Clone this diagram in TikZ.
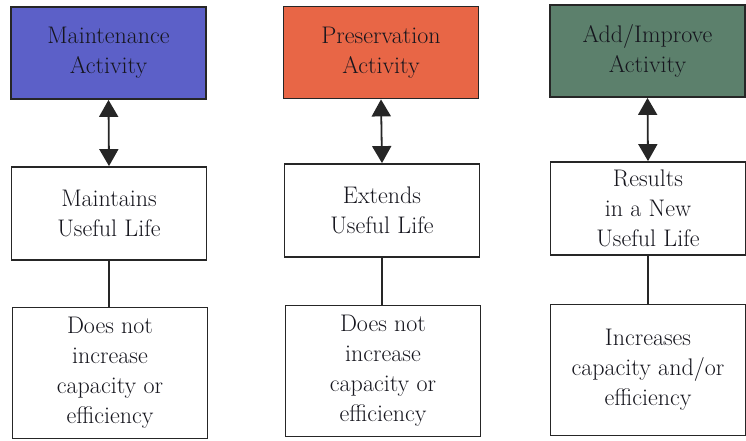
\documentclass[tikz,border=0pt]{standalone}
\usetikzlibrary{arrows.meta}
\definecolor{maintblue}{RGB}{92,96,200}
\definecolor{presorange}{RGB}{232,102,70}
\definecolor{addgreen}{RGB}{92,128,108}
\definecolor{inktext}{RGB}{22,22,30}
\begin{document}
\begin{tikzpicture}[x=1pt,y=-1pt,
  box/.style={draw=black!85, line width=1.8pt, rectangle, inner sep=0pt,
    align=center, text=inktext, font=\fontsize{24}{30}\selectfont},
  headbox/.style={box, minimum width=195pt, minimum height=92pt},
  lifebox/.style={box, fill=white, minimum width=195pt, minimum height=93pt},
  effectbox/.style={box, fill=white, minimum width=195pt, minimum height=131pt},
  twoway/.style={line width=1.8pt, draw=black!85,
    {Triangle[width=19pt,length=17pt]}-{Triangle[width=19pt,length=17pt]}},
  link/.style={line width=1.8pt, draw=black!85}]
\useasboundingbox (0,0) rectangle (746,441);

% column 1: maintenance
\node[headbox, fill=maintblue] (h1) at (108.5,53) {Maintenance\\Activity};
\node[lifebox] (m1) at (109,213.5) {Maintains\\Useful Life};
\node[effectbox] (b1) at (110,373) {Does not\\increase\\capacity or\\efficiency};

% column 2: preservation
\node[headbox, fill=presorange] (h2) at (381,52.5) {Preservation\\Activity};
\node[lifebox] (m2) at (382,210.5) {Extends\\Useful Life};
\node[effectbox] (b2) at (383,371) {Does not\\increase\\capacity or\\efficiency};

% column 3: add/improve
\node[headbox, fill=addgreen] (h3) at (647.5,51) {Add/Improve\\Activity};
\node[lifebox] (m3) at (648,208.5) {Results\\in a New\\Useful Life};
\node[effectbox] (b3) at (648,370) {Increases\\capacity and/or\\efficiency};

% connectors
\draw[twoway] (h1.south) -- (m1.north);
\draw[twoway] (h2.south) -- (m2.north);
\draw[twoway] (h3.south) -- (m3.north);
\draw[link] (m1.south) -- (m1.south |- b1.north);
\draw[link] (m2.south) -- (m2.south |- b2.north);
\draw[link] (m3.south) -- (m3.south |- b3.north);
\end{tikzpicture}
\end{document}
